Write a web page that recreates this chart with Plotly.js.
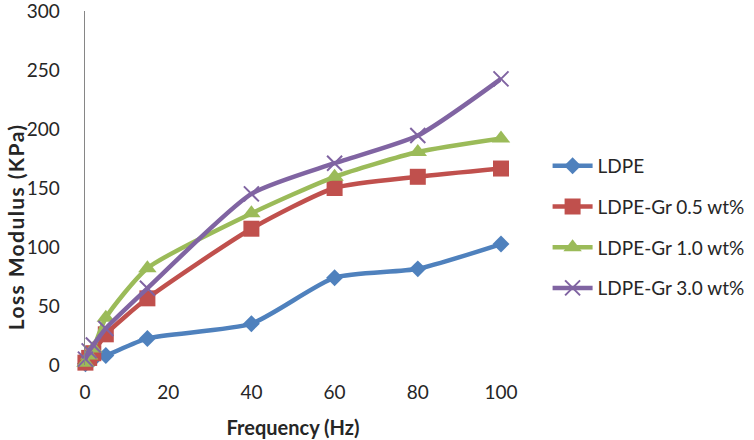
<!DOCTYPE html>
<html>
<head>
<meta charset="utf-8">
<script src="https://cdn.plot.ly/plotly-3.0.1.min.js"></script>
<style>html,body{margin:0;padding:0;background:#fff;}#chart{width:754px;height:440px;}
.annotation-text{letter-spacing:1.4px;}</style>
</head>
<body>
<div id="chart"></div>
<script>
const freq = [0.1, 1, 2, 5, 15, 40, 60, 80, 100];
const ldpe = [1, 3, 5, 8, 22.5, 35, 74, 81.5, 102.5];
const gr05 = [2, 6, 10, 26, 56.5, 115.5, 150, 159.5, 166.5];
const gr10 = [2, 8, 14, 40, 82, 128.5, 159.5, 180.5, 192];
const gr30 = [5, 12, 17, 31, 65, 145, 171, 194.5, 242.5];
const names = ['LDPE', 'LDPE-Gr 0.5 wt%', 'LDPE-Gr 1.0 wt%', 'LDPE-Gr 3.0 wt%'];
const colors = ['#4F81BD', '#C0504D', '#9BBB59', '#8064A2'];
const symbols = ['diamond', 'square', 'triangle-up', 'x-thin-open'];
const sizes = [13, 16, 16, 15];
const series = [ldpe, gr05, gr10, gr30];

const traces = series.map((ys, i) => ({
  x: freq, y: ys, name: names[i], type: 'scatter', mode: 'lines+markers',
  legendgroup: 'g' + i,
  line: {color: colors[i], width: 4.5, shape: 'spline', smoothing: 0.6},
  marker: {symbol: symbols[i], size: sizes[i], color: colors[i],
           line: {color: colors[i], width: i === 3 ? 2 : 0}},
  cliponaxis: false
}));

const layout = {
  width: 754, height: 440,
  margin: {l: 85, r: 253, t: 11, b: 75, autoexpand: false},
  paper_bgcolor: '#fff', plot_bgcolor: '#fff',
  font: {family: 'Lato, Carlito, Calibri, sans-serif', size: 19, color: '#262626'},
  showlegend: true,
  legend: {x: 1.112, y: 0.39, xanchor: 'left', yanchor: 'middle',
           font: {size: 19, color: '#262626'}, tracegroupgap: 13, itemwidth: 40},
  xaxis: {range: [0, 100], tickvals: [0, 20, 40, 60, 80, 100], showgrid: false,
          zeroline: false, showline: false, ticks: '', ticklabelstandoff: 14,
          title: {text: '<b>Frequency (Hz)</b>', font: {size: 20}, standoff: 18}},
  yaxis: {range: [0, 300], tickvals: [0, 50, 100, 150, 200, 250, 300], showgrid: false,
          zeroline: false, showline: true, linecolor: '#868686', linewidth: 1.5,
          ticks: '', ticklabelstandoff: 20, ticklabeloverflow: 'allow'},
  annotations: [{text: '<b>Loss Modulus (KPa)</b>', textangle: -90, showarrow: false,
                 xref: 'paper', yref: 'paper', x: -0.165, y: 0.39,
                 xanchor: 'center', yanchor: 'middle', font: {size: 21, color: '#262626'}}]
};
Plotly.newPlot('chart', traces, layout, {displayModeBar: false, staticPlot: true});
</script>
</body>
</html>
